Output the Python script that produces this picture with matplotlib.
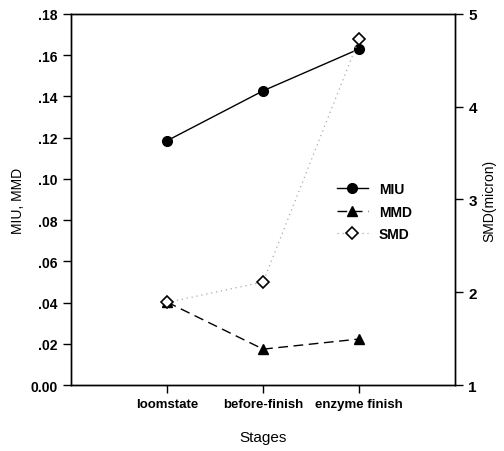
import numpy as np
import matplotlib
matplotlib.use("Agg")
import matplotlib.pyplot as plt

plt.rcParams["font.family"] = ["Liberation Sans", "DejaVu Sans"]

stages = ["loomstate", "before-finish", "enzyme finish"]
miu = [0.1185, 0.1427, 0.1630]
mmd = [0.0402, 0.0174, 0.0223]
smd = [1.89, 2.11, 4.73]

left_ticks = [0.0, 0.02, 0.04, 0.06, 0.08, 0.10, 0.12, 0.14, 0.16, 0.18]
left_labels = ["0.00", ".02", ".04", ".06", ".08", ".10", ".12", ".14", ".16", ".18"]
right_ticks = [1, 2, 3, 4, 5]

x = np.arange(1, len(stages) + 1)

fig = plt.figure(figsize=(5.04, 4.52), dpi=100)
ax = fig.add_axes([0.141, 0.146, 0.762, 0.821])
ax2 = ax.twinx()

l1, = ax.plot(x, miu, color="black", lw=1.0, marker="o", ms=7, label="MIU")
l2, = ax.plot(x, mmd, color="black", lw=1.0, ls=(0, (7, 4)), marker="^", ms=7, label="MMD")
l3, = ax2.plot(x, smd, color="#aaaaaa", lw=0.9, ls=(0, (1, 3)), marker="D", ms=6,
               mfc="white", mec="black", mew=1.2, label="SMD")

ax.set_xlim(0, 4)
ax.set_ylim(0, 0.18)
ax2.set_ylim(1, 5)

ax.set_xticks(x)
ax.set_xticklabels(stages, fontsize=9.5, fontweight="bold")
ax.set_yticks(left_ticks)
ax.set_yticklabels(left_labels, fontsize=10, fontweight="bold")
ax2.set_yticks(right_ticks)
ax2.set_yticklabels([str(t) for t in right_ticks], fontsize=11, fontweight="bold")

for a in (ax, ax2):
    a.tick_params(direction="out", length=6, width=1, colors="black")
    for s in a.spines.values():
        s.set_linewidth(1.0)

ax.set_xlabel("Stages", fontsize=11, labelpad=14)
ax.set_ylabel("MIU, MMD", fontsize=10, labelpad=4)
ax2.set_ylabel("SMD(micron)", fontsize=10, labelpad=4)

ax.legend(handles=[l1, l2, l3], loc="upper left", bbox_to_anchor=(0.66, 0.58),
          frameon=False, handlelength=2.2, labelspacing=0.6,
          prop={"weight": "bold", "size": 10})

fig.savefig("out.png", dpi=100)
